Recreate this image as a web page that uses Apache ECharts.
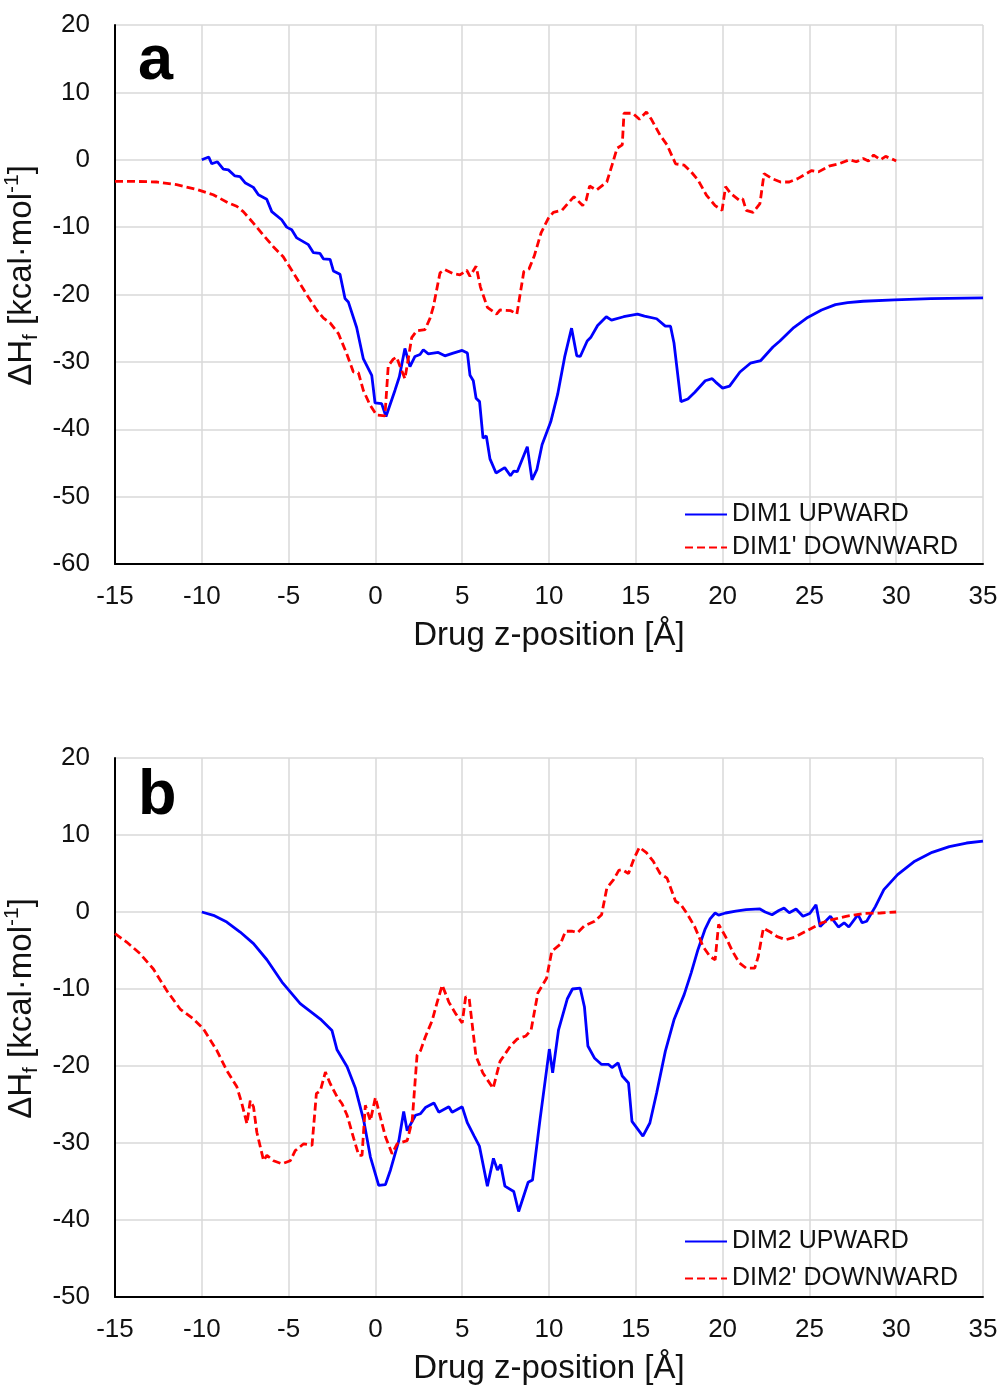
<!DOCTYPE html>
<html>
<head>
<meta charset="utf-8">
<script src="https://cdn.jsdelivr.net/npm/echarts@6/dist/echarts.min.js"></script>
<style>
  html, body { margin: 0; padding: 0; background: #fff; }
  #chart { width: 1002px; height: 1389px; }
</style>
</head>
<body>
<div id="chart"></div>
<script>
// panel a
var dim1Up = [[-10,0],[-9.6,0.4],[-9.43,-0.6],[-9.1,-0.3],[-8.76,-1.4],[-8.47,-1.5],[-8.09,-2.4],[-7.8,-2.5],[-7.51,-3.4],[-7.03,-4.1],[-6.74,-5.2],[-6.26,-5.85],[-5.97,-7.7],[-5.4,-8.9],[-5.11,-10.0],[-4.82,-10.4],[-4.53,-11.6],[-3.86,-12.6],[-3.57,-13.8],[-3.19,-13.9],[-3.0,-14.7],[-2.61,-14.8],[-2.42,-16.5],[-2.04,-17.0],[-1.75,-20.6],[-1.56,-21.1],[-1.08,-24.9],[-0.7,-29.5],[-0.21,-32.0],[-0.02,-36.1],[0.36,-36.2],[0.61,-38.1],[1.13,-34.2],[1.38,-32.2],[1.7,-28.0],[1.99,-30.7],[2.28,-29.2],[2.57,-28.9],[2.76,-28.2],[3.05,-28.8],[3.62,-28.6],[4.0,-29.1],[4.48,-28.7],[5.0,-28.3],[5.3,-28.7],[5.45,-32.0],[5.64,-32.8],[5.8,-35.4],[6.0,-35.9],[6.2,-41.3],[6.39,-41.0],[6.6,-44.4],[6.95,-46.5],[7.45,-45.7],[7.78,-46.9],[7.97,-46.2],[8.17,-46.3],[8.75,-42.6],[9.02,-47.5],[9.3,-46.0],[9.6,-42.3],[10.1,-38.9],[10.5,-34.8],[10.9,-29.3],[11.3,-25.0],[11.6,-29.1],[11.8,-29.2],[12.2,-26.9],[12.4,-26.4],[12.8,-24.6],[13.3,-23.3],[13.6,-23.8],[14.3,-23.3],[15.1,-22.9],[15.5,-23.2],[16.2,-23.6],[16.7,-24.7],[17.0,-24.7],[17.2,-27.2],[17.6,-35.9],[18.0,-35.5],[18.4,-34.5],[19.0,-32.8],[19.4,-32.5],[19.6,-33.0],[20.0,-33.9],[20.4,-33.6],[21.0,-31.5],[21.6,-30.2],[22.2,-29.8],[22.9,-27.8],[23.3,-26.9],[24.1,-24.9],[24.9,-23.4],[25.7,-22.3],[26.5,-21.5],[27.2,-21.2],[28.1,-21.0],[29.9,-20.8],[32.0,-20.6],[35,-20.5]];
var dim1Down = [[-15,-3.2],[-13.95,-3.2],[-12.6,-3.3],[-11.45,-3.7],[-10.3,-4.4],[-9.34,-5.2],[-8.47,-6.4],[-7.99,-6.9],[-7.61,-7.7],[-7.03,-9.4],[-6.45,-11.2],[-5.88,-12.9],[-5.31,-14.4],[-4.82,-16.4],[-4.34,-18.4],[-3.86,-20.4],[-3.38,-22.3],[-2.99,-23.5],[-2.61,-24.2],[-2.13,-25.8],[-1.65,-28.8],[-1.27,-31.5],[-0.98,-31.6],[-0.7,-34.2],[-0.31,-36.4],[0.07,-37.9],[0.55,-38.0],[0.74,-30.6],[1.03,-29.6],[1.22,-29.3],[1.41,-30.6],[1.7,-32.5],[1.89,-29.6],[2.09,-26.4],[2.38,-25.4],[2.86,-25.2],[3.15,-23.5],[3.34,-21.8],[3.72,-16.8],[4.0,-16.3],[4.48,-16.9],[4.87,-17.1],[5.26,-16.4],[5.45,-17.3],[5.8,-15.8],[6.05,-18.9],[6.45,-21.9],[6.98,-22.9],[7.18,-22.3],[7.8,-22.4],[8.15,-22.9],[8.55,-16.6],[8.85,-16.2],[9.15,-14.3],[9.55,-10.8],[9.96,-8.7],[10.25,-7.8],[10.75,-7.5],[11.15,-6.3],[11.44,-5.5],[11.94,-6.8],[12.14,-6.0],[12.34,-3.9],[12.73,-4.5],[13.33,-3.3],[13.63,-0.8],[13.92,1.7],[14.22,2.2],[14.32,6.9],[14.82,6.9],[15.21,6.0],[15.61,7.1],[15.9,6.0],[16.4,3.65],[16.8,2.2],[17.29,-0.6],[17.79,-0.8],[18.19,-1.8],[18.58,-3.0],[19.08,-5.3],[19.57,-6.8],[19.97,-7.5],[20.17,-4.0],[20.47,-5.0],[20.96,-6.0],[21.16,-5.8],[21.36,-7.5],[21.76,-7.8],[22.15,-6.5],[22.39,-2.05],[22.85,-2.8],[23.34,-3.3],[23.84,-3.3],[24.33,-2.8],[24.83,-2.05],[25.13,-1.6],[25.52,-1.8],[26.12,-0.96],[26.71,-0.6],[27.31,0.0],[27.7,-0.3],[28.1,0.2],[28.4,-0.2],[28.7,0.7],[29.09,0],[29.39,0.5],[29.89,-0.05],[30,-0.2]];

// panel b
var dim2Up = [[-10,0],[-9.33,-0.43],[-8.56,-1.3],[-7.79,-2.6],[-7.02,-4.1],[-6.25,-6.2],[-5.38,-9.1],[-4.33,-11.9],[-3.75,-12.9],[-3.17,-13.9],[-2.5,-15.4],[-2.21,-17.9],[-1.63,-20.1],[-1.15,-22.9],[-0.67,-27.1],[-0.29,-31.8],[0.19,-35.5],[0.58,-35.4],[0.87,-33.5],[1.35,-29.7],[1.63,-25.9],[1.83,-28.4],[2.31,-26.4],[2.6,-26.2],[2.88,-25.4],[3.37,-24.8],[3.65,-26.0],[4.23,-25.3],[4.42,-26.0],[5.0,-25.3],[5.3,-27.4],[5.69,-29.1],[5.99,-30.4],[6.45,-35.6],[6.8,-32.0],[7.03,-33.5],[7.22,-32.8],[7.46,-35.6],[7.97,-36.3],[8.25,-38.9],[8.8,-35.1],[9.05,-34.8],[9.48,-27.0],[10.02,-17.8],[10.21,-20.9],[10.55,-15.3],[11.05,-11.3],[11.35,-10.0],[11.8,-9.9],[12.04,-12.3],[12.24,-17.4],[12.63,-19.0],[13.03,-19.8],[13.43,-19.8],[13.63,-20.2],[13.98,-19.6],[14.22,-21.3],[14.58,-22.2],[14.78,-27.2],[15.41,-29.1],[15.81,-27.4],[16.2,-23.5],[16.7,-18.1],[17.2,-14.0],[17.79,-10.7],[18.19,-7.9],[18.58,-4.9],[18.98,-2.3],[19.28,-0.9],[19.57,-0.13],[19.77,-0.4],[20.17,-0.13],[20.76,0.1],[21.36,0.3],[22.15,0.4],[22.45,0],[22.85,-0.35],[23.24,0.2],[23.54,0.5],[23.84,-0.1],[24.23,0.4],[24.63,-0.56],[25.02,-0.2],[25.38,0.95],[25.62,-1.9],[26.21,-0.56],[26.67,-1.95],[27.0,-1.4],[27.27,-1.95],[27.8,-0.35],[28.04,-1.4],[28.3,-1.2],[28.8,0.7],[29.29,2.9],[30.08,4.85],[31.07,6.6],[32.07,7.75],[33.06,8.5],[34.05,8.96],[35,9.2]];
var dim2Down = [[-15,-2.8],[-14.33,-3.9],[-13.56,-5.4],[-12.79,-7.4],[-12.02,-10.2],[-11.25,-12.6],[-10.48,-13.9],[-9.9,-15.2],[-9.13,-18.0],[-8.56,-20.6],[-7.98,-22.7],[-7.69,-24.9],[-7.4,-27.5],[-7.21,-24.5],[-7.02,-25.3],[-6.83,-28.6],[-6.44,-32.3],[-6.25,-31.6],[-5.87,-32.3],[-5.38,-32.7],[-4.9,-32.3],[-4.62,-31.0],[-4.13,-30.1],[-3.65,-30.3],[-3.4,-23.6],[-3.17,-23.2],[-2.88,-20.8],[-2.6,-22.3],[-2.21,-24.0],[-1.92,-24.9],[-1.63,-26.4],[-1.25,-29.4],[-0.96,-31.6],[-0.77,-31.6],[-0.58,-25.1],[-0.29,-27.1],[0,-24.1],[0.19,-25.8],[0.58,-29.2],[0.96,-31.4],[1.25,-30.1],[1.54,-29.9],[1.83,-29.7],[2.12,-27.1],[2.4,-18.6],[2.6,-18.0],[2.88,-16.2],[3.27,-14.1],[3.56,-11.7],[3.85,-9.5],[4.23,-11.7],[4.62,-13.2],[5.0,-14.4],[5.2,-11.0],[5.4,-11.2],[5.79,-18.7],[6.19,-20.9],[6.78,-22.9],[7.18,-19.4],[7.78,-17.4],[8.17,-16.5],[8.67,-16.1],[8.97,-15.3],[9.36,-10.5],[9.86,-8.6],[10.16,-5.1],[10.65,-4.2],[10.95,-2.5],[11.35,-2.5],[11.64,-2.7],[12.04,-1.8],[12.63,-1.2],[13.03,-0.35],[13.33,3.1],[13.72,4.2],[14.02,5.4],[14.22,5.5],[14.58,5.0],[14.91,7.0],[15.21,8.4],[15.61,7.7],[16.0,6.6],[16.4,5.0],[16.8,4.4],[17.29,1.4],[17.59,1.0],[17.99,-0.35],[18.39,-1.9],[18.88,-4.5],[19.28,-5.8],[19.57,-6.2],[19.77,-1.6],[20.17,-3.2],[20.57,-5.1],[20.96,-6.6],[21.36,-7.3],[21.85,-7.3],[22.05,-5.8],[22.35,-2.1],[22.75,-2.6],[23.14,-3.2],[23.64,-3.6],[24.13,-3.3],[24.63,-2.7],[25.13,-2.1],[25.72,-1.4],[26.31,-1.0],[27.11,-0.56],[28.1,-0.2],[29.09,-0.13],[30.0,0]];

var names = ['DIM1 UPWARD', "DIM1' DOWNWARD", 'DIM2 UPWARD', "DIM2' DOWNWARD"];
var yRangeA = [-60, 20];
var yRangeB = [-50, 20];

var FONT = 'Liberation Sans, Arial, sans-serif';

var chart = echarts.init(document.getElementById('chart'));

//坐标轴
var makeX = function(idx) {
	return {
		type: 'value', gridIndex: idx, min: -15, max: 35, interval: 5,
		name: 'Drug z-position [Å]', nameLocation: 'middle', nameGap: 55,
		nameTextStyle: { fontFamily: FONT, fontSize: 33, color: '#111' },
		axisLine: { onZero: false, lineStyle: { color: '#000', width: 2 } },
		axisTick: { show: false },
		axisLabel: { fontFamily: FONT, fontSize: 26, color: '#111', margin: 20 },
		splitLine: { show: true, lineStyle: { color: '#d9d9d9', width: 1.5 } }
	};
};
var makeY = function(idx, range) {
	return {
		type: 'value', gridIndex: idx, min: range[0], max: range[1], interval: 10,
		name: '{m|ΔH}{s|f}{m| [kcal·mol}{p|-1}{m|]}', nameLocation: 'middle', nameGap: 67,
		nameTextStyle: {
			fontFamily: FONT, color: '#111', padding: [0, 0, 0, 38],
			rich: {
				m: { fontFamily: FONT, fontSize: 33, color: '#111', lineHeight: 40 },
				s: { fontFamily: FONT, fontSize: 21, color: '#111', verticalAlign: 'bottom', lineHeight: 40 },
				p: { fontFamily: FONT, fontSize: 21, color: '#111', verticalAlign: 'top', lineHeight: 40 }
			}
		},
		axisLine: { show: true, onZero: false, lineStyle: { color: '#000', width: 2 } },
		axisTick: { show: false },
		axisLabel: { fontFamily: FONT, fontSize: 26, color: '#111', margin: 25 },
		splitLine: { show: true, lineStyle: { color: '#d9d9d9', width: 1.5 } }
	};
};
var makeLegend = function(top, data, gap) {
	return {
		left: 679, top: top, orient: 'vertical', itemWidth: 42, itemHeight: 14, itemGap: gap,
		itemStyle: { opacity: 0 },
		textStyle: { fontFamily: FONT, fontSize: 25, color: '#111' },
		data: data
	};
};
var lineSeries = function(name, idx, data, color, dashed) {
	return {
		name: name, type: 'line', xAxisIndex: idx, yAxisIndex: idx,
		data: data, symbol: 'none', smooth: false, animation: false,
		lineStyle: { color: color, width: 2.8, type: dashed ? [8, 4] : 'solid' },
		itemStyle: { color: color }
	};
};

var option = {
	backgroundColor: '#fff',
	grid: [
		{ left: 115, right: 19, top: 25, height: 539, outerBoundsMode: 'none', containLabel: false },
		{ left: 115, right: 19, top: 758, height: 539, outerBoundsMode: 'none', containLabel: false }
	],
	xAxis: [makeX(0), makeX(1)],
	yAxis: [makeY(0, yRangeA), makeY(1, yRangeB)],
	legend: [makeLegend(497, [names[0], names[1]], 8), makeLegend(1224, [names[2], names[3]], 12)],
	graphic: [
		{ type: 'text', left: 138, top: 30, style: { text: 'a', font: 'bold 63px ' + FONT, fill: '#000' } },
		{ type: 'text', left: 138, top: 765, style: { text: 'b', font: 'bold 63px ' + FONT, fill: '#000' } }
	],
	series: [
		lineSeries(names[0], 0, dim1Up, '#0000ff', false),
		lineSeries(names[1], 0, dim1Down, '#ff0000', true),
		lineSeries(names[2], 1, dim2Up, '#0000ff', false),
		lineSeries(names[3], 1, dim2Down, '#ff0000', true)
	]
};
chart.setOption(option);
</script>
</body>
</html>
